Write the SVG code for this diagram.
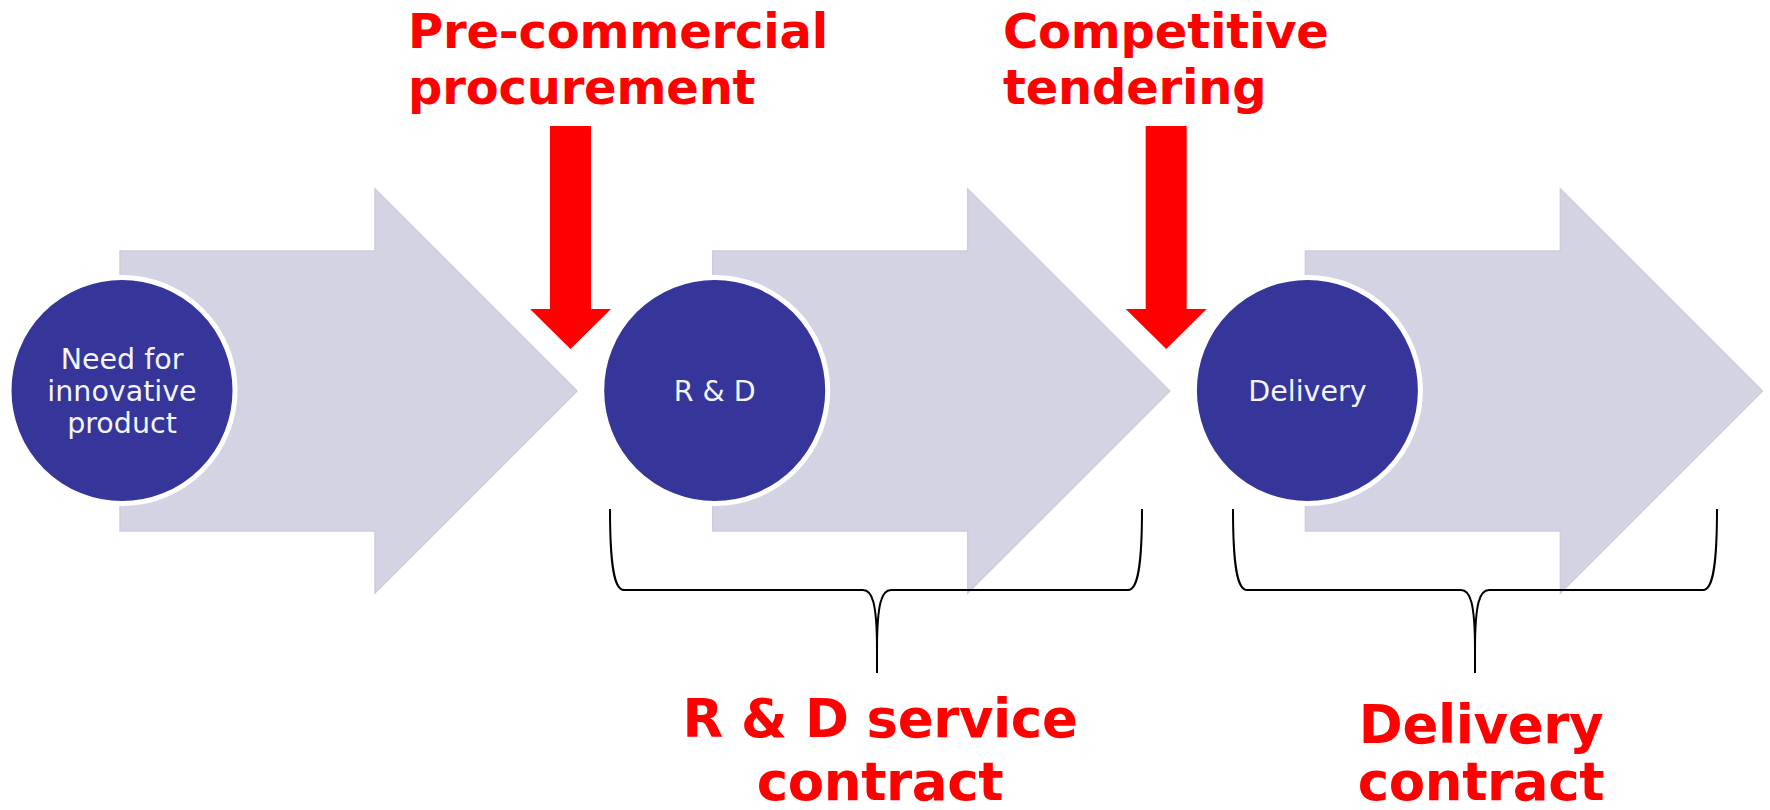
<svg xmlns="http://www.w3.org/2000/svg" width="1770" height="810" viewBox="0 0 1770 810">
<defs>
<style>
.chev{fill:#D3D3E3;stroke:#CDCDDF;stroke-width:1.5;stroke-linejoin:miter}
.node{fill:#35359A;stroke:#FFFFFF;stroke-width:5}
.ntext{font-family:"DejaVu Sans","Verdana",sans-serif;font-size:28.5px;fill:#F4F4FA;text-anchor:middle}
.red{fill:#FF0000}
.lbl{font-family:"DejaVu Sans",sans-serif;font-weight:bold;fill:#FF0000}
.top{font-size:48px;letter-spacing:-0.2px}
.bot{font-size:53px;letter-spacing:-0.4px;text-anchor:middle}
.brace{fill:none;stroke:#000000;stroke-width:2}
</style>
<polygon id="chevShape" points="0,251 255,251 255,189 457,391 255,593 255,531 0,531"/>
<polygon id="redArrow" points="-20.5,126 20.5,126 20.5,309 40.5,309 0,349 -40.5,309 -20.5,309"/>
</defs>
<rect width="1770" height="810" fill="#FFFFFF"/>

<g id="step1">
<use href="#chevShape" x="120" class="chev"/>
<circle class="node" cx="122" cy="390.5" r="113"/>
<text class="ntext" x="122" y="369">Need for</text>
<text class="ntext" x="122" y="401">innovative</text>
<text class="ntext" x="122" y="432.5">product</text>
</g>

<g id="step2">
<use href="#chevShape" x="712.7" class="chev"/>
<circle class="node" cx="714.7" cy="390.5" r="113"/>
<text class="ntext" x="714.7" y="401">R &amp; D</text>
</g>

<g id="step3">
<use href="#chevShape" x="1305.4" class="chev"/>
<circle class="node" cx="1307.4" cy="390.5" r="113"/>
<text class="ntext" x="1307.4" y="401">Delivery</text>
</g>

<g id="connectors">
<use href="#redArrow" x="570.5" class="red"/>
<use href="#redArrow" x="1166.2" class="red"/>
<path class="brace" d="M610,509 C610,565 614,590 624,590 L863,590 C872,590 877,602 877,650 L877,673 M877,650 C877,602 882,590 891,590 L1128,590 C1138,590 1142,565 1142,509"/>
<path class="brace" d="M1233,509 C1233,565 1237,590 1247,590 L1461,590 C1470,590 1475,602 1475,650 L1475,673 M1475,650 C1475,602 1480,590 1489,590 L1703,590 C1713,590 1717,565 1717,509"/>
</g>

<g id="label-pcp">
<text class="lbl top" x="408" y="48">Pre-commercial</text>
<text class="lbl top" x="408" y="104">procurement</text>
</g>
<g id="label-tender">
<text class="lbl top" x="1003" y="48">Competitive</text>
<text class="lbl top" x="1003" y="104">tendering</text>
</g>
<g id="label-rd">
<text class="lbl bot" x="880" y="737">R &amp; D service</text>
<text class="lbl bot" x="880" y="800">contract</text>
</g>
<g id="label-delivery">
<text class="lbl bot" x="1481" y="743">Delivery</text>
<text class="lbl bot" x="1481" y="800">contract</text>
</g>
</svg>
